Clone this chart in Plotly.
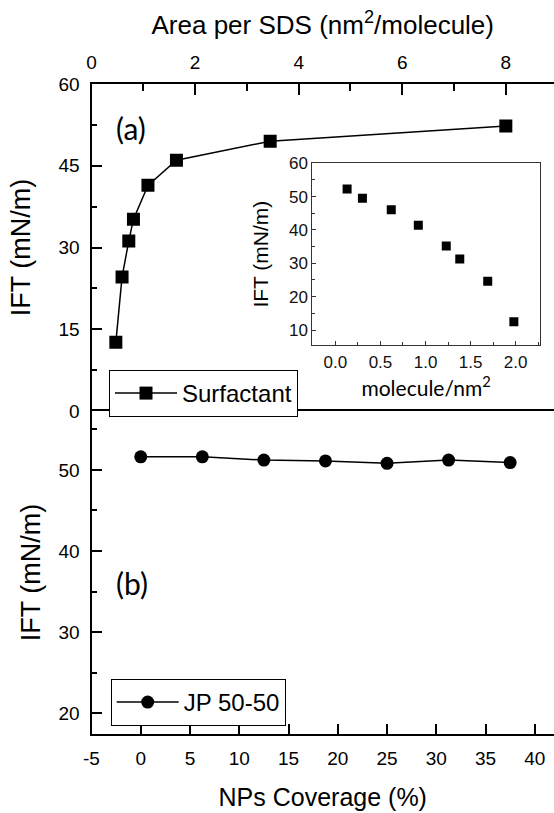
import plotly.graph_objects as go

# ---------------- data ----------------
# Panel (a): surfactant (SDS) – IFT vs area per SDS molecule
area_per_sds = [0.47, 0.59, 0.72, 0.81, 1.09, 1.64, 3.45, 8.0]
ift_surfactant = [12.6, 24.6, 31.2, 35.2, 41.4, 46.0, 49.5, 52.3]

# Inset: IFT vs molecule/nm^2
molecule_per_nm2 = [0.13, 0.30, 0.62, 0.92, 1.23, 1.38, 1.69, 1.98]
ift_inset = [52.3, 49.5, 46.1, 41.4, 35.2, 31.3, 24.6, 12.5]

# Panel (b): Janus particles JP 50-50 – IFT vs NPs coverage
np_coverage = [0, 6.25, 12.5, 18.75, 25, 31.25, 37.5]
ift_jp = [51.6, 51.6, 51.2, 51.1, 50.8, 51.2, 50.9]

# tick labels of the bottom axis (hyphen minus as in the original)
coverage_ticks = [-5, 0, 5, 10, 15, 20, 25, 30, 35, 40]
coverage_ticktext = ["-5", "0", "5", "10", "15", "20", "25", "30", "35", "40"]

# ---------------- layout geometry (px) ----------------
W, H = 554, 813
X_LEFT = 91.5
TOP_Y0, SPLIT_Y, BOT_Y1 = 84, 411, 734
INSET_X0, INSET_X1, INSET_Y0, INSET_Y1 = 312.3, 540, 163.3, 345


def px_x(p):
    return p / W


def px_y(p):
    return 1 - p / H


AX = "Arial"
CAL = "Lato"

fig = go.Figure()

fig.add_trace(go.Scatter(
    x=area_per_sds, y=ift_surfactant, mode="lines+markers", name="Surfactant",
    xaxis="x", yaxis="y", legend="legend",
    line=dict(color="black", width=1.5),
    marker=dict(symbol="square", size=13, color="black"),
))
fig.add_trace(go.Scatter(
    x=np_coverage, y=ift_jp, mode="lines+markers", name="JP 50-50",
    xaxis="x2", yaxis="y2", legend="legend2",
    line=dict(color="black", width=1.5),
    marker=dict(symbol="circle", size=13, color="black"),
))
fig.add_trace(go.Scatter(
    x=molecule_per_nm2, y=ift_inset, mode="markers", showlegend=False,
    xaxis="x3", yaxis="y3",
    marker=dict(symbol="square", size=9, color="black"),
))

main_common = dict(
    showline=True, linecolor="black", linewidth=2, showgrid=False, zeroline=False,
    ticks="inside", tickcolor="black", tickwidth=1.5, automargin=False,
    tickfont=dict(family=AX, size=19, color="black"),
)
inset_common = dict(
    showline=True, linecolor="#333", linewidth=1, mirror=True, showgrid=False,
    zeroline=False, ticks="inside", tickcolor="#333", tickwidth=1, ticklen=4,
    automargin=False,
    tickfont=dict(family=AX, size=17, color="#111"),
)

fig.update_layout(
    width=W, height=H,
    margin=dict(l=0, r=0, t=0, b=0, pad=0, autoexpand=False),
    paper_bgcolor="white", plot_bgcolor="rgba(0,0,0,0)",
    xaxis=dict(
        **main_common, domain=[px_x(X_LEFT), 1], anchor="y", side="top",
        range=[0, 8.93], tick0=0, dtick=2, ticklen=11, ticklabelstandoff=5,
        minor=dict(dtick=1, ticks="inside", ticklen=7, tickcolor="black", tickwidth=1.5),
        title=dict(text="Area per SDS (nm<sup>2</sup>/molecule)",
                   font=dict(family=AX, size=26, color="black"), standoff=10),
    ),
    yaxis=dict(
        **main_common, domain=[px_y(SPLIT_Y), px_y(TOP_Y0)], anchor="x",
        range=[0, 60], tick0=0, dtick=15, ticklen=10, ticklabelstandoff=6,
        minor=dict(dtick=7.5, ticks="inside", ticklen=5, tickcolor="black", tickwidth=1.5),
        title=dict(text="IFT (mN/m)", font=dict(family=AX, size=27, color="black"),
                   standoff=20),
    ),
    xaxis2=dict(
        **main_common, domain=[px_x(X_LEFT), 1], anchor="y2", mirror=True,
        range=[-5, 41.95], tickvals=coverage_ticks, ticktext=coverage_ticktext,
        ticklen=10, ticklabelstandoff=6,
        title=dict(text="NPs Coverage (%)", font=dict(family=AX, size=25, color="black"),
                   standoff=21),
    ),
    yaxis2=dict(
        **main_common, domain=[px_y(BOT_Y1), px_y(SPLIT_Y)], anchor="x2",
        range=[17.46, 57.25], tick0=0, dtick=10, ticklen=10, ticklabelstandoff=6,
        minor=dict(dtick=5, ticks="inside", ticklen=5, tickcolor="black", tickwidth=1.5),
        title=dict(text="IFT (mN/m)", font=dict(family=AX, size=27, color="black"),
                   standoff=10),
    ),
    xaxis3=dict(
        **inset_common, domain=[px_x(INSET_X0), px_x(INSET_X1)], anchor="y3",
        range=[-0.256, 2.27], tick0=0, dtick=0.5, tickformat=".1f",
        ticklabelstandoff=2,
        minor=dict(dtick=0.25, ticks="inside", ticklen=3, tickcolor="#333"),
        title=dict(text="molecule/nm<sup>2</sup>", font=dict(family=CAL, size=21, color="black"),
                   standoff=0),
    ),
    yaxis3=dict(
        **inset_common, domain=[px_y(INSET_Y1), px_y(INSET_Y0)], anchor="x3",
        range=[5.5, 60], tick0=0, dtick=10, ticklabelstandoff=0,
        minor=dict(dtick=5, ticks="inside", ticklen=3, tickcolor="#333"),
        title=dict(text="IFT (mN/m)", font=dict(family=AX, size=21, color="black"),
                   standoff=14),
    ),
    legend=dict(
        x=px_x(109), y=px_y(370), xanchor="left", yanchor="top",
        bgcolor="white", bordercolor="black", borderwidth=1,
        font=dict(family=AX, size=24, color="black"), itemwidth=62,
    ),
    legend2=dict(
        x=px_x(110.7), y=px_y(679), xanchor="left", yanchor="top",
        bgcolor="white", bordercolor="black", borderwidth=1,
        font=dict(family=AX, size=24, color="black"), itemwidth=62,
    ),
    annotations=[
        dict(text="(a)", x=px_x(131), y=px_y(128), xref="paper", yref="paper",
             xanchor="center", yanchor="middle",
             showarrow=False, font=dict(family=CAL, size=30, color="black")),
        dict(text="(b)", x=px_x(132), y=px_y(583), xref="paper", yref="paper",
             xanchor="center", yanchor="middle",
             showarrow=False, font=dict(family=CAL, size=30, color="black")),
    ],
)

fig.write_html("out.html")
